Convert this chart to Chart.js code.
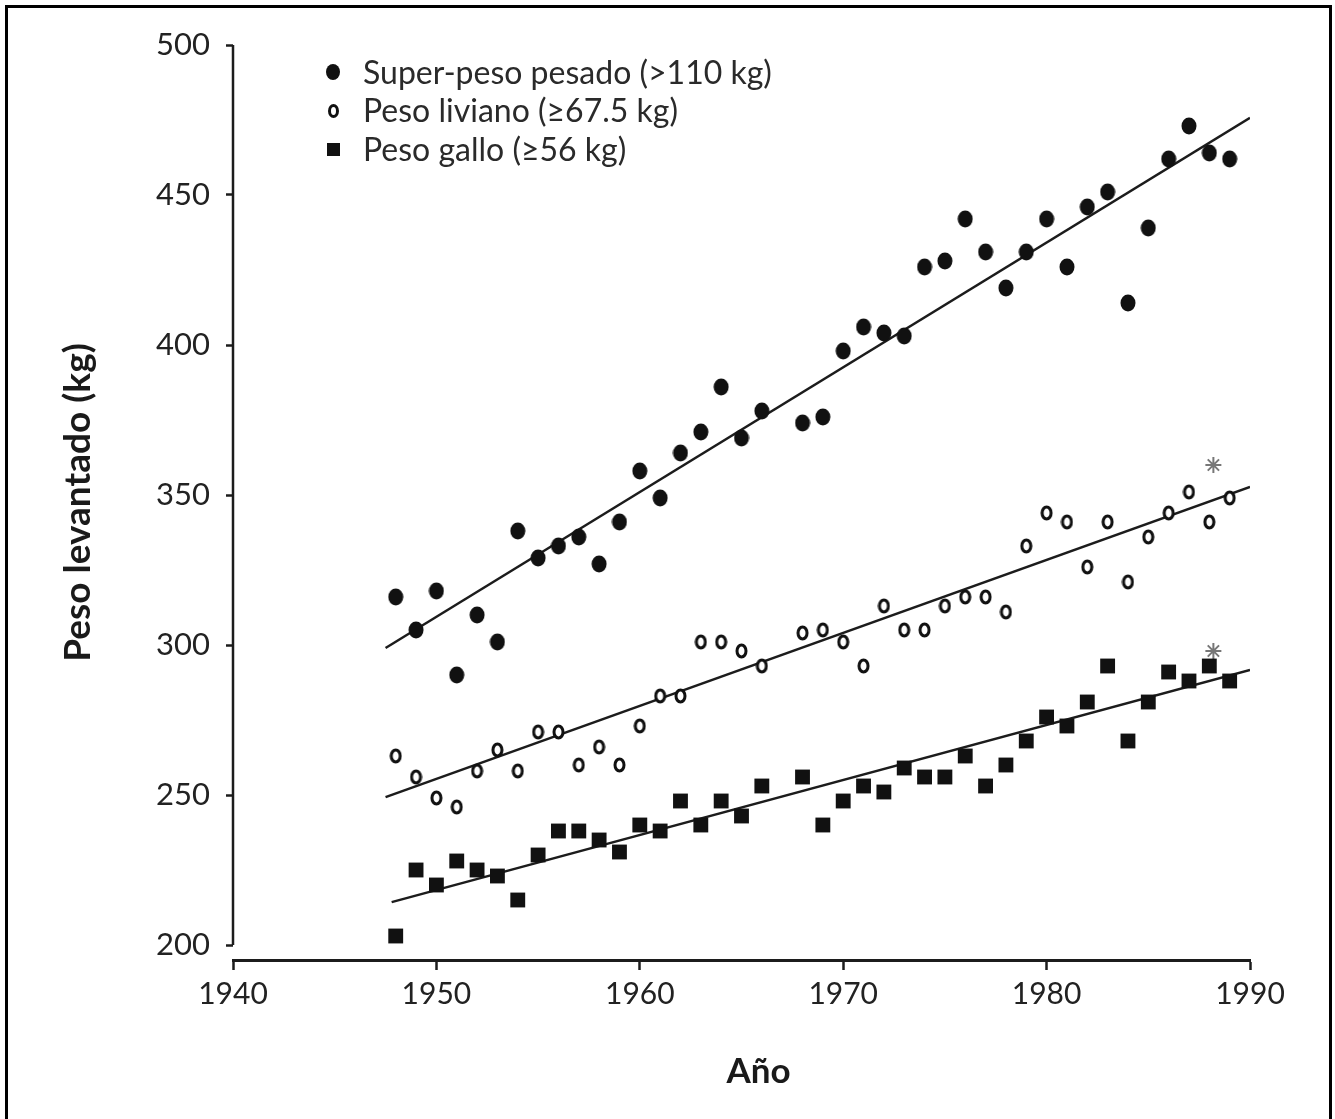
<!DOCTYPE html>
<html lang="es">
<head>
<meta charset="utf-8">
<title>Peso levantado por año</title>
<script src="https://cdn.jsdelivr.net/npm/chart.js@4.4.1/dist/chart.umd.min.js"></script>
<style>
  html, body { margin: 0; padding: 0; overflow: hidden; background: #fff; }
  #wrap { position: relative; width: 1335px; height: 1119px; }
  #frame { position: absolute; left: 5px; top: 5px; width: 1321px; height: 1200px; border: 3px solid #000; }
  #chart { position: absolute; left: 0; top: 0; }
  #legend { position: absolute; left: 0; top: 0; font-family: Lato, sans-serif; font-size: 32px; color: #2a2a2a; }
  #legend .txt { position: absolute; left: 363px; height: 38px; line-height: 38px; white-space: nowrap; }
  #legend .mk { position: absolute; background: #111; }
</style>
</head>
<body>
<div id="wrap">
  <div id="frame"></div>
  <canvas id="chart" width="1335" height="1119"></canvas>
  <div id="legend">
    <div class="mk" style="left:326px;top:64px;width:14px;height:16px;border-radius:50%"></div>
    <div class="txt" style="top:53px">Super-peso pesado (&gt;110 kg)</div>
    <div class="mk" style="left:328px;top:104px;width:5px;height:8px;border:3px solid #111;background:#fff;border-radius:50%"></div>
    <div class="txt" style="top:91px">Peso liviano (≥67.5 kg)</div>
    <div class="mk" style="left:327px;top:143px;width:13px;height:13px"></div>
    <div class="txt" style="top:130px">Peso gallo (≥56 kg)</div>
  </div>
</div>
<script>
// años con registro (no hay 1967)
const years = [1948, 1949, 1950, 1951, 1952, 1953, 1954, 1955, 1956, 1957, 1958, 1959, 1960, 1961,
  1962, 1963, 1964, 1965, 1966, 1968, 1969, 1970, 1971, 1972, 1973, 1974, 1975, 1976, 1977, 1978,
  1979, 1980, 1981, 1982, 1983, 1984, 1985, 1986, 1987, 1988, 1989];

const superPesado = [316, 305, 318, 290, 310, 301, 338, 329, 333, 336, 327, 341, 358, 349,
  364, 371, 386, 369, 378, 374, 376, 398, 406, 404, 403, 426, 428, 442, 431, 419,
  431, 442, 426, 446, 451, 414, 439, 462, 473, 464, 462];

const liviano = [263, 256, 249, 246, 258, 265, 258, 271, 271, 260, 266, 260, 273, 283,
  283, 301, 301, 298, 293, 304, 305, 301, 293, 313, 305, 305, 313, 316, 316, 311,
  333, 344, 341, 326, 341, 321, 336, 344, 351, 341, 349];

const gallo = [203, 225, 220, 228, 225, 223, 215, 230, 238, 238, 235, 231, 240, 238,
  248, 240, 248, 243, 253, 256, 240, 248, 253, 251, 259, 256, 256, 263, 253, 260,
  268, 276, 273, 281, 293, 268, 281, 291, 288, 293, 288];

// rectas de regresión (extremos)
const trendYears = [1947.5, 1990];
const trendSuper = [299, 475.7];
const trendLiviano = [249.3, 352.7];
const trendGalloYears = [1947.8, 1990];
const trendGallo = [214.3, 291.7];

// asteriscos de 1988
const starYears = [1988.2];
const starLiviano = [360];
const starGallo = [298];

const xTicks = [1940, 1950, 1960, 1970, 1980, 1990];
const yTicks = [200, 250, 300, 350, 400, 450, 500];

const pts = (xs, ys) => xs.map((x, i) => ({ x, y: ys[i] }));
const INK = '#1c1c1c';

Chart.defaults.font.family = 'Lato, sans-serif';

// marcadores algo ovalados, como en la figura impresa
function oval(w, h, lw, filled) {
  const c = document.createElement('canvas');
  c.width = w; c.height = h;
  const g = c.getContext('2d');
  g.beginPath();
  g.ellipse(w / 2, h / 2, w / 2 - lw / 2 - 0.5, h / 2 - lw / 2 - 0.5, 0, 0, 2 * Math.PI);
  g.fillStyle = filled ? '#111' : '#fff';
  g.fill();
  if (lw) { g.lineWidth = lw; g.strokeStyle = '#111'; g.stroke(); }
  return c;
}
const dotFilled = oval(16, 18, 0, true);
const dotOpen = oval(13, 16, 3, false);

// eje vertical solo de 200 a 500, separado del eje horizontal
const yAxisLine = {
  id: 'yAxisLine',
  beforeDatasetsDraw(chart) {
    const { ctx, chartArea, scales: { y } } = chart;
    ctx.save();
    ctx.strokeStyle = INK;
    ctx.lineWidth = 2.5;
    ctx.beginPath();
    ctx.moveTo(chartArea.left, y.getPixelForValue(yTicks[yTicks.length - 1]));
    ctx.lineTo(chartArea.left, y.getPixelForValue(yTicks[0]));
    ctx.stroke();
    ctx.restore();
  }
};

const trend = (xs, ys) => ({
  data: pts(xs, ys), showLine: true, pointRadius: 0,
  borderColor: INK, borderWidth: 2.5, order: 1,
});

new Chart(document.getElementById('chart'), {
  type: 'scatter',
  data: {
    datasets: [
      { label: 'Super-peso pesado (>110 kg)', data: pts(years, superPesado), pointStyle: dotFilled,
        pointRadius: 8, order: 0 },
      { label: 'Peso liviano (≥67.5 kg)', data: pts(years, liviano), pointStyle: dotOpen,
        pointRadius: 7, order: 0 },
      { label: 'Peso gallo (≥56 kg)', data: pts(years, gallo), pointStyle: 'rect',
        pointRadius: 10.5, backgroundColor: '#111', borderColor: '#111', borderWidth: 0, order: 0 },
      trend(trendYears, trendSuper),
      trend(trendYears, trendLiviano),
      trend(trendGalloYears, trendGallo),
      { data: pts(starYears, starLiviano), pointStyle: 'star', pointRadius: 8,
        borderColor: '#777', borderWidth: 2, order: 0 },
      { data: pts(starYears, starGallo), pointStyle: 'star', pointRadius: 8,
        borderColor: '#777', borderWidth: 2, order: 0 },
    ],
  },
  options: {
    responsive: false,
    animation: false,
    devicePixelRatio: 1,
    layout: { padding: { left: 0, right: 85, top: 45, bottom: 0 } },
    plugins: { legend: { display: false }, tooltip: { enabled: false } },
    scales: {
      x: {
        type: 'linear', min: 1940, max: 1990,
        afterBuildTicks: s => { s.ticks = xTicks.map(v => ({ value: v })); },
        afterFit: s => { s.height = 159; },
        grid: { drawOnChartArea: false, tickLength: 10, tickWidth: 2.5, tickColor: INK },
        border: { display: true, color: INK, width: 3 },
        ticks: { color: '#222', font: { size: 30 }, padding: 6, maxRotation: 0, callback: v => String(v) },
        title: { display: true, text: '    Año', color: '#1a1a1a', font: { size: 35, weight: 'bold' },
                 padding: { top: 0, bottom: 26 } },
      },
      y: {
        min: 195, max: 500,
        afterBuildTicks: s => { s.ticks = yTicks.map(v => ({ value: v })); },
        afterFit: s => { s.width = 233; },
        grid: { drawOnChartArea: false, tickLength: 7, tickWidth: 2.5, tickColor: INK },
        border: { display: false },
        ticks: { color: '#222', font: { size: 31 }, padding: 16, callback: v => String(v) },
        title: { display: true, text: 'Peso levantado (kg)', color: '#1a1a1a',
                 font: { size: 37, weight: 'bold' }, padding: { top: 56, bottom: 0 } },
      },
    },
  },
  plugins: [yAxisLine],
});
</script>
</body>
</html>
